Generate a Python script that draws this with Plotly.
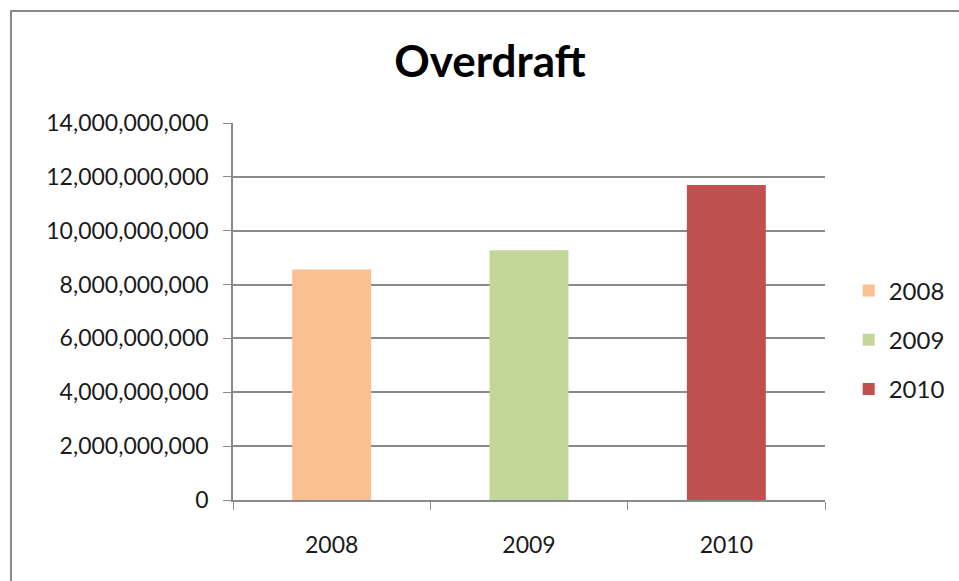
import plotly.graph_objects as go

# Overdraft totals per year
years = ["2008", "2009", "2010"]
overdraft = [8.56e9, 9.27e9, 11.70e9]
bar_colors = ["#FAC090", "#C4D79B", "#C0504D"]

y_ticks = list(range(0, 14_000_000_001, 2_000_000_000))

font_family = "Lato, 'Open Sans', sans-serif"
text_color = "#1a1a1a"
grid_color = "#8a8a8a"

fig = go.Figure()
for yr, val, col in zip(years, overdraft, bar_colors):
    fig.add_trace(go.Bar(
        x=[yr], y=[val], name=yr,
        marker=dict(color=col, line=dict(width=0)),
        legendgroup=yr,
        width=0.4,
    ))

fig.update_layout(
    width=959, height=581,
    margin=dict(l=233, r=134, t=123, b=81, autoexpand=False),
    paper_bgcolor="white", plot_bgcolor="white",
    barmode="overlay",
    title=dict(
        text="<b>Overdraft</b>",
        x=490 / 959, xanchor="center",
        y=1 - 62 / 581, yanchor="middle",
        font=dict(family=font_family, size=44, color="black"),
    ),
    font=dict(family=font_family, size=23, color=text_color),
    legend=dict(
        x=1.04, xanchor="left", y=(500 - 340) / 377, yanchor="middle",
        font=dict(size=24, color=text_color),
        tracegroupgap=15,
        itemwidth=30,
    ),
    xaxis=dict(
        type="category",
        showline=True, linecolor=grid_color, linewidth=1.5,
        ticks="outside", tickson="boundaries", ticklen=8, tickcolor=grid_color,
        ticklabelstandoff=24,
        tickfont=dict(size=23, color=text_color),
        showgrid=False,
    ),
    yaxis=dict(
        range=[0, 14e9],
        tickvals=y_ticks,
        tickformat=",.0f",
        showline=True, linecolor=grid_color, linewidth=1.5,
        ticks="outside", ticklen=8, tickcolor=grid_color,
        ticklabelstandoff=10,
        showgrid=True, gridcolor=grid_color, gridwidth=1.5,
        zeroline=False,
        tickfont=dict(size=23, color=text_color),
    ),
    shapes=[dict(
        type="rect", xref="paper", yref="paper",
        x0=(11 - 233) / 592, x1=(970 - 233) / 592,
        y0=(500 - 600) / 377, y1=(500 - 11) / 377,
        line=dict(color="#8a8a8a", width=2),
        layer="below",
    )],
)

fig.write_html("out.html")
